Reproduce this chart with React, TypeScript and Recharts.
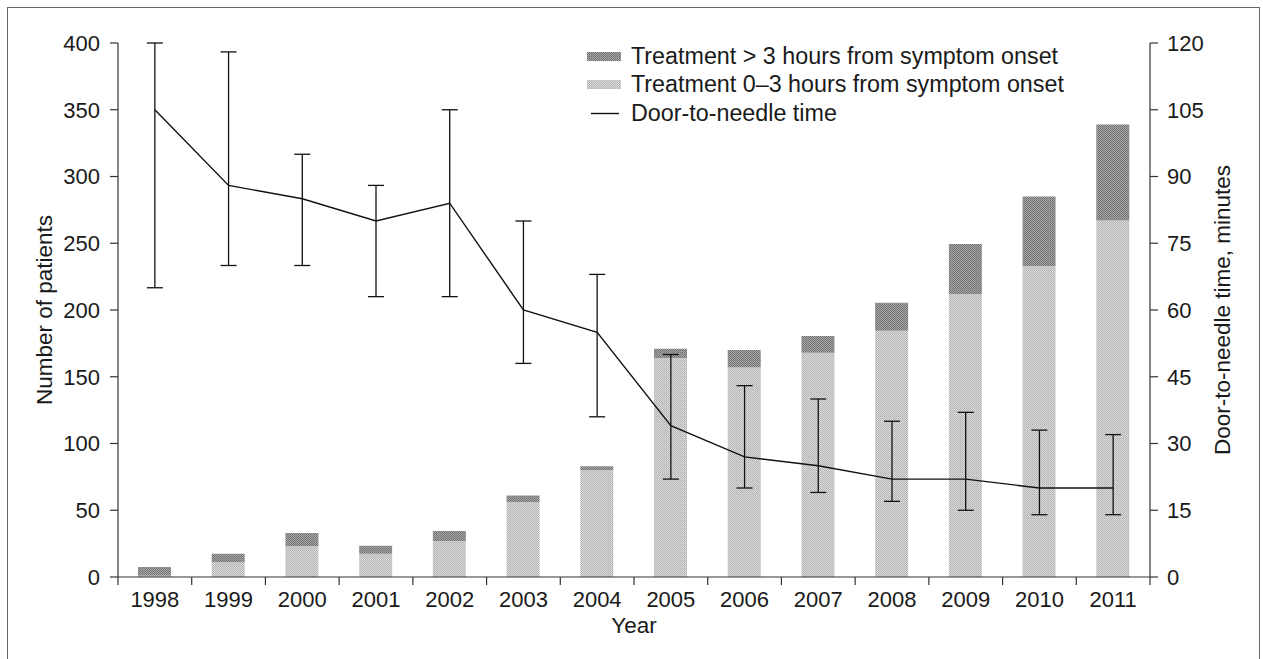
import React from "react";
import {
  Bar,
  ComposedChart,
  ErrorBar,
  Legend,
  Line,
  XAxis,
  YAxis,
} from "recharts";

const years = ["1998", "1999", "2000", "2001", "2002", "2003", "2004", "2005", "2006", "2007", "2008", "2009", "2010", "2011"];
// patients treated 0-3 h and >3 h from symptom onset
const early = [1, 11, 23, 17.5, 27, 56, 80, 164, 157, 168, 184.5, 212, 233, 267];
const late = [6.5, 6.5, 10, 6, 7.5, 5, 3, 7, 13, 12.5, 21, 37.5, 52, 72];
// door-to-needle time, minutes (median with range bars)
const dntMedian = [105, 88, 85, 80, 84, 60, 55, 34, 27, 25, 22, 22, 20, 20];
const dntLow = [65, 70, 70, 63, 63, 48, 36, 22, 20, 19, 17, 15, 14, 14];
const dntHigh = [120, 118, 95, 88, 105, 80, 68, 50, 43, 40, 35, 37, 33, 32];
const patientTicks = [0, 50, 100, 150, 200, 250, 300, 350, 400];
const minuteTicks = [0, 15, 30, 45, 60, 75, 90, 105, 120];

const data = years.map((year, i) => ({
  year,
  early: early[i],
  late: late[i],
  dnt: dntMedian[i],
  dntErr: [dntMedian[i] - dntLow[i], dntHigh[i] - dntMedian[i]],
}));

const FONT = "'Liberation Sans', Arial, Helvetica, sans-serif";
const INK = "#1a1a1a";
const AXIS = "#333";

function YearTick(props: any) {
  const { x, y, payload, index } = props;
  const half = payload?.offset ?? 36.86;
  return (
    <g>
      <line x1={x - half} x2={x - half} y1={y - 8} y2={y} stroke={AXIS} strokeWidth={1.2} />
      {index === years.length - 1 ? (
        <line x1={x + half} x2={x + half} y1={y - 8} y2={y} stroke={AXIS} strokeWidth={1.2} />
      ) : null}
      <text x={x} y={y + 22} textAnchor="middle" fontSize={22} fill={INK} fontFamily={FONT}>
        {payload.value}
      </text>
    </g>
  );
}

function ChartLegend() {
  const row = { display: "flex", alignItems: "center", height: 28.5 } as const;
  const text = { marginLeft: 10, fontSize: 23.3, color: INK, fontFamily: FONT, whiteSpace: "nowrap" } as const;
  return (
    <div>
      <div style={row}>
        <svg width={34} height={9}>
          <rect width={34} height={9} fill="url(#ptDark)" />
        </svg>
        <span style={text}>Treatment &gt; 3 hours from symptom onset</span>
      </div>
      <div style={row}>
        <svg width={34} height={9}>
          <rect width={34} height={9} fill="url(#ptLight)" />
        </svg>
        <span style={text}>Treatment 0–3 hours from symptom onset</span>
      </div>
      <div style={row}>
        <svg width={34} height={9}>
          <line x1={4} x2={32} y1={4.5} y2={4.5} stroke="#111" strokeWidth={1.4} />
        </svg>
        <span style={text}>Door-to-needle time</span>
      </div>
    </div>
  );
}

export default function App() {
  return (
    <div
      style={{
        position: "absolute",
        left: 0,
        top: 0,
        width: 1263,
        height: 659,
        overflow: "hidden",
        background: "#fff",
        fontFamily: FONT,
      }}
    >
      <div
        style={{
          position: "absolute",
          left: 7,
          top: 7,
          width: 1251,
          height: 680,
          border: "1px solid #666",
        }}
      />
      <div style={{ position: "absolute", left: 0, top: 0 }}>
        <ComposedChart
          width={1263}
          height={659}
          data={data}
          margin={{ top: 43, right: 0, bottom: 0, left: 0 }}
          barSize={33}
        >
          <defs>
            <pattern id="ptLight" patternUnits="userSpaceOnUse" width={2} height={2}>
              <rect width={2} height={2} fill="#dcdcdc" />
              <rect width={1} height={1} fill="#adadad" />
              <rect x={1} y={1} width={1} height={1} fill="#b8b8b8" />
            </pattern>
            <pattern id="ptDark" patternUnits="userSpaceOnUse" width={2} height={2}>
              <rect width={2} height={2} fill="#a6a6a6" />
              <rect width={1} height={1} fill="#6e6e6e" />
              <rect x={1} y={1} width={1} height={1} fill="#7a7a7a" />
            </pattern>
          </defs>
          <XAxis
            dataKey="year"
            height={82}
            stroke={AXIS}
            strokeWidth={1.2}
            tickLine={false}
            tickSize={8}
            tickMargin={0}
            interval={0}
            tick={<YearTick />}
            label={{
              value: "Year",
              position: "insideBottom",
              offset: 26,
              fontSize: 22.5,
              fill: INK,
              fontFamily: FONT,
            }}
          />
          <YAxis
            yAxisId="left"
            width={118}
            domain={[0, 400]}
            ticks={patientTicks}
            interval={0}
            stroke={AXIS}
            strokeWidth={1.2}
            tickSize={8}
            tickMargin={10}
            tick={{ fontSize: 22, fill: INK, fontFamily: FONT }}
            label={{
              content: ({ viewBox }: any) => (
                <text
                  x={44}
                  y={viewBox.y + viewBox.height / 2}
                  transform={`rotate(-90, 44, ${viewBox.y + viewBox.height / 2})`}
                  textAnchor="middle"
                  dominantBaseline="central"
                  fontSize={22.5}
                  fill={INK}
                  fontFamily={FONT}
                >
                  Number of patients
                </text>
              ),
            }}
          />
          <YAxis
            yAxisId="right"
            orientation="right"
            width={113}
            domain={[0, 120]}
            ticks={minuteTicks}
            interval={0}
            stroke={AXIS}
            strokeWidth={1.2}
            tickSize={8}
            tickMargin={9}
            tick={{ fontSize: 22, fill: INK, fontFamily: FONT }}
            label={{
              content: ({ viewBox }: any) => (
                <text
                  x={1222}
                  y={viewBox.y + viewBox.height / 2}
                  transform={`rotate(-90, 1222, ${viewBox.y + viewBox.height / 2})`}
                  textAnchor="middle"
                  dominantBaseline="central"
                  fontSize={22.5}
                  fill={INK}
                  fontFamily={FONT}
                >
                  Door-to-needle time, minutes
                </text>
              ),
            }}
          />
          <Legend
            layout="vertical"
            align="center"
            verticalAlign="middle"
            content={<ChartLegend />}
            wrapperStyle={{ position: "absolute", left: 587, top: 42, width: "auto", height: "auto" }}
          />
          <Bar
            yAxisId="left"
            dataKey="early"
            stackId="n"
            fill="url(#ptLight)"
            isAnimationActive={false}
          />
          <Bar
            yAxisId="left"
            dataKey="late"
            stackId="n"
            fill="url(#ptDark)"
            isAnimationActive={false}
          />
          <Line
            yAxisId="right"
            type="linear"
            dataKey="dnt"
            stroke="#111"
            strokeWidth={1.4}
            dot={false}
            activeDot={false}
            isAnimationActive={false}
          >
            <ErrorBar
              dataKey="dntErr"
              direction="y"
              width={8}
              stroke="#111"
              strokeWidth={1.3}
              isAnimationActive={false}
            />
          </Line>
        </ComposedChart>
      </div>
    </div>
  );
}
